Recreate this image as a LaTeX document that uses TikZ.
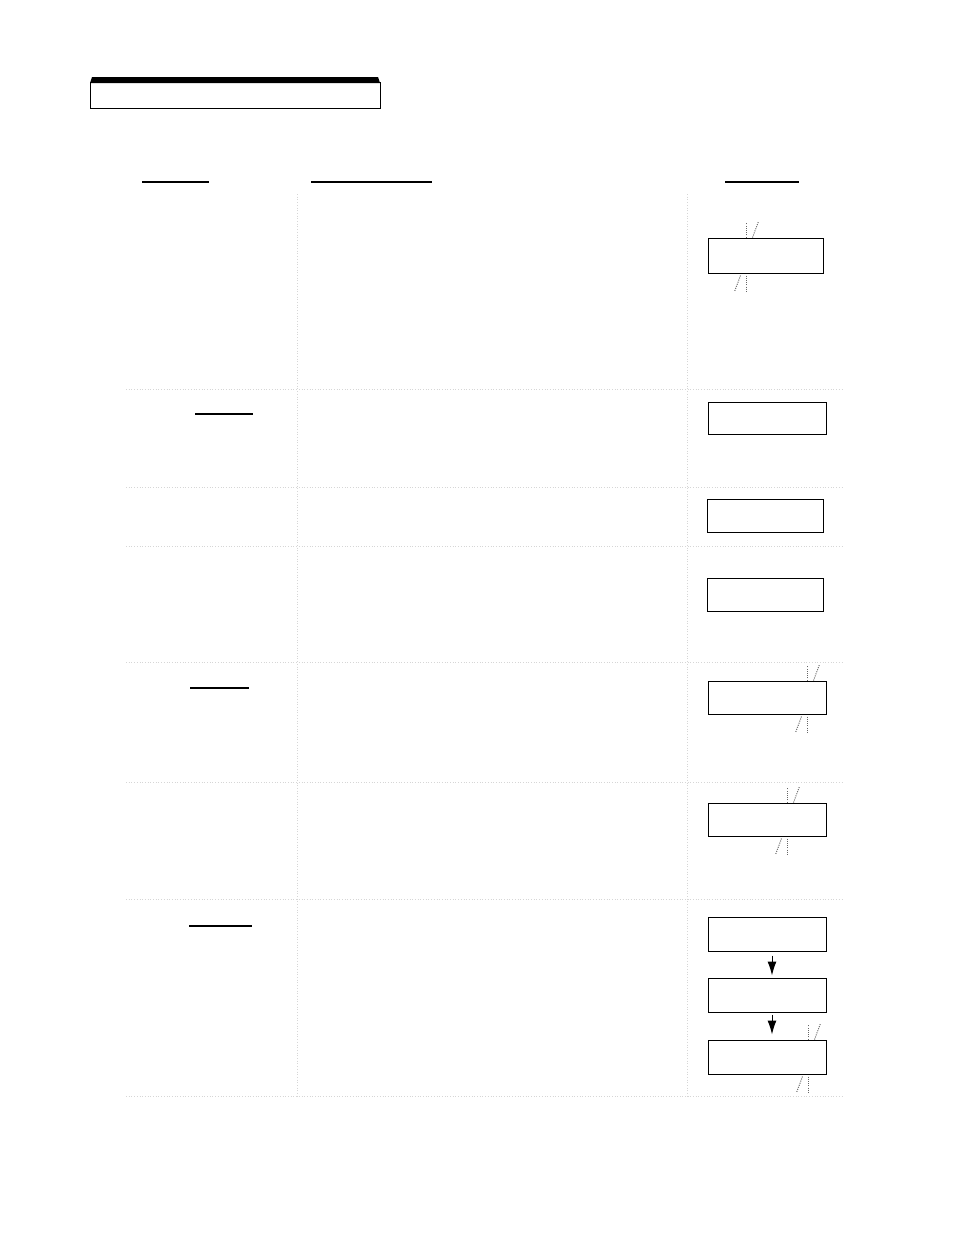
\documentclass[tikz,border=0pt]{standalone}
\usepackage{tikz}
\usetikzlibrary{arrows.meta, positioning}
\colorlet{colorGrid}{black!16}
\colorlet{colorBlink}{black!60}
\newcommand{\blinkmark}[2]{%
\draw[blink] ([xshift=#2pt]#1.north west) -- ++(0,-15);
\draw[blink] ([xshift=#2pt+6pt]#1.north west) -- ++(6,-16);
\draw[blink] ([xshift=#2pt,yshift=-2pt]#1.south west) -- ++(0,17);
\draw[blink] ([xshift=#2pt-6pt,yshift=-2pt]#1.south west) -- ++(-6,16);
}

\begin{document}
\begin{tikzpicture}[x=1pt, y=-1pt, >={Latex[length=14pt,width=9pt]},
  display/.style={draw, line width=1pt, inner sep=0pt, minimum width=118pt, minimum height=33pt},
  grid/.style={colorGrid, dotted, line width=0.7pt},
  blink/.style={colorBlink, dash pattern=on 1pt off 1.2pt, line width=1pt},
  rule/.style={line width=1.4pt}]
\useasboundingbox (0,0) rectangle (954,1235);
% title bar
\fill (90,83) -- (92,77) -- (378,77) -- (380,83) -- cycle;
\draw[line width=1pt] (90,82) rectangle (380,108);
% column heads
\draw[rule] (142,182) -- (209,182);
\draw[rule] (311,182) -- (432,182);
\draw[rule] (725,182) -- (799,182);
% table grid
\foreach \y in {389,487,546,662,782,899,1096}
  \draw[grid] (126,\y) -- (842,\y);
\foreach \x in {297,687}
  \draw[grid] (\x,194) -- (\x,1097);
% key labels
\draw[rule] (195,414) -- (253,414);
\draw[rule] (190,688) -- (249,688);
\draw[rule] (189,926) -- (252,926);
% displays
\node[display, minimum width=115pt, minimum height=35pt] (d1) at (765.5,255.5) {};
\node[display, minimum height=32pt] (d2) at (767,418) {};
\node[display, minimum width=116pt] (d3) at (765,515.5) {};
\node[display, minimum width=116pt] (d4) at (765,594.5) {};
\node[display] (d5) at (767,697.5) {};
\node[display] (d6) at (767,819.5) {};
\node[display, minimum height=34pt] (d7) at (767,934) {};
\node[display, minimum height=34pt] (d8) at (767,995) {};
\node[display, minimum height=34pt] (d9) at (767,1057) {};
\draw[->, line width=1pt, shorten <=4pt, shorten >=2pt] ([xshift=5pt]d7.south) -- ([xshift=5pt]d8.north);
\draw[->, line width=1pt, shorten <=2pt, shorten >=5pt] ([xshift=5pt]d8.south) -- ([xshift=5pt]d9.north);
% blinking marks
\blinkmark{d1}{39}
\blinkmark{d5}{100}
\blinkmark{d6}{80}
\blinkmark{d9}{101}
\end{tikzpicture}
\end{document}
